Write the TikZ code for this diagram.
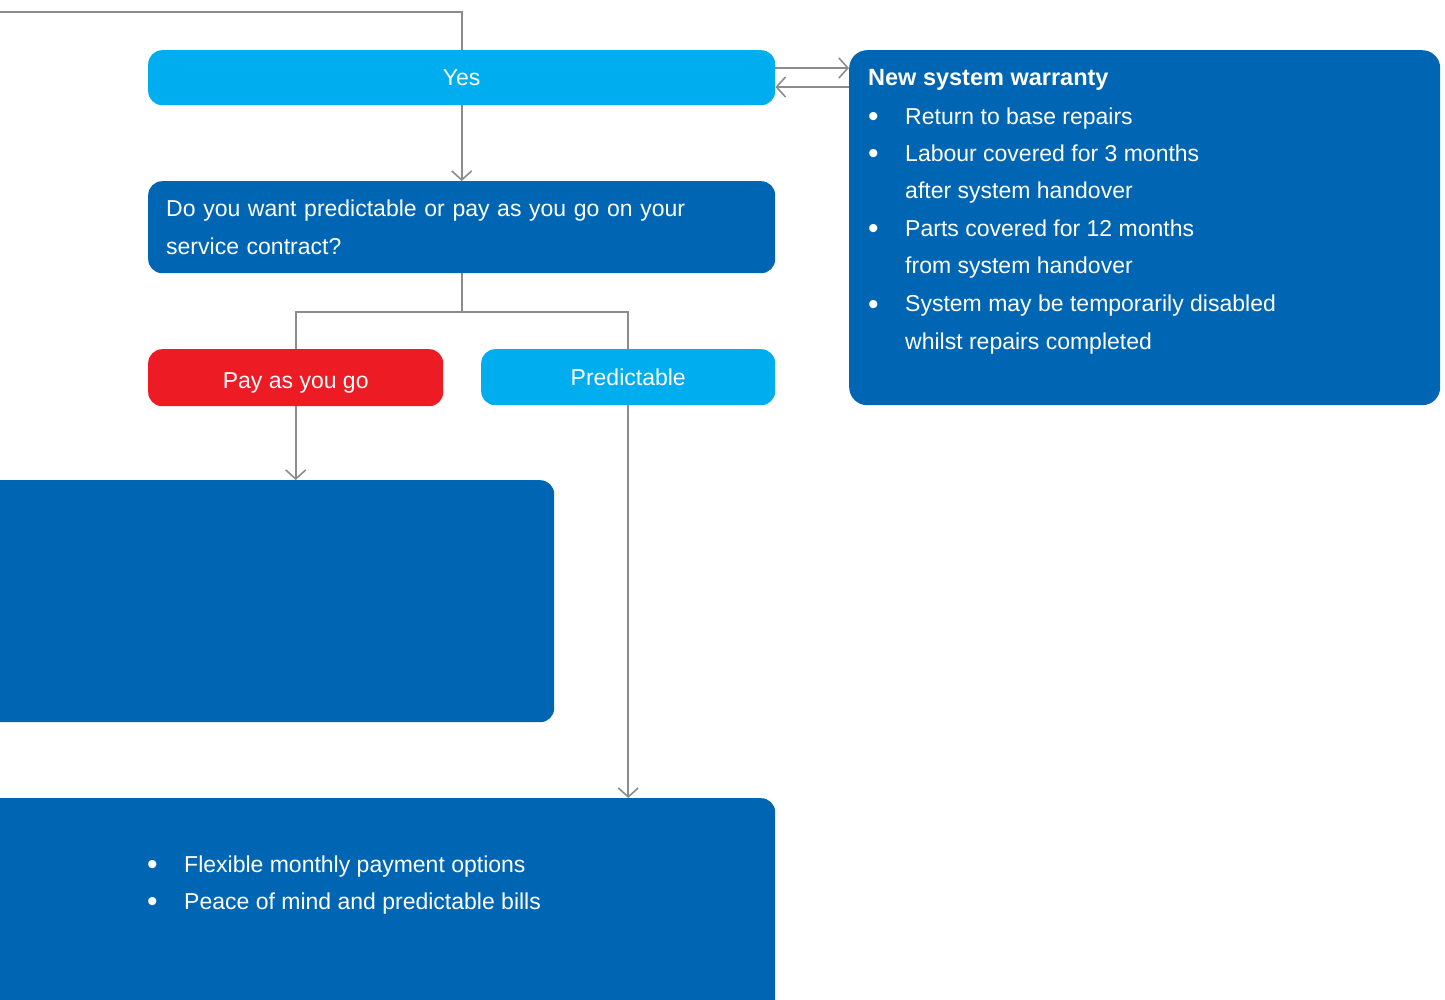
\documentclass[tikz,border=0pt]{standalone}
\usepackage{fontspec}
\setmainfont{Liberation Sans}
\usetikzlibrary{arrows.meta}
\definecolor{cyanbox}{HTML}{00AEEF}
\definecolor{bluebox}{HTML}{0066B3}
\definecolor{redbox}{HTML}{ED1C24}
\definecolor{connc}{HTML}{8C8C8C}
\begin{document}
\begin{tikzpicture}[x=1pt,y=-1pt,
  box/.style={rounded corners=14pt, inner sep=0pt, anchor=north west, text=white,
    font=\fontsize{23}{38}\selectfont},
  conn/.style={draw=connc, line width=1.6pt},
  arr/.style={conn, -{Straight Barb[length=9pt,width=20pt,line width=1.6pt]}},
  txt/.style={text=white, font=\fontsize{23}{27}\selectfont, inner sep=0pt, anchor=base west},
  bul/.style={text=white, font=\fontsize{30}{30}\selectfont, inner sep=0pt, anchor=base west}]
\clip (0,0) rectangle (1445,1000);
% boxes
\node[box, fill=cyanbox, minimum width=627pt, minimum height=55pt] (yes) at (148,50) {Yes};
\node[box, fill=bluebox, rounded corners=18pt, minimum width=591pt, minimum height=355pt] (warranty) at (849,50) {};
\node[box, fill=bluebox, minimum width=627pt, minimum height=92pt, text width=591pt, inner xsep=18pt, align=left] (question) at (148,181) {Do you want predictable or pay as you go on your\\service contract?};
\node[box, fill=redbox, minimum width=295pt, minimum height=57pt, text height=23pt, text depth=2pt] (pay) at (148,349) {Pay as you go};
\node[box, fill=cyanbox, minimum width=294pt, minimum height=56pt] (pred) at (481,349) {Predictable};
\node[box, fill=bluebox, minimum width=594pt, minimum height=242pt] (mid) at (-40,480) {};
\node[box, fill=bluebox, minimum width=815pt, minimum height=260pt] (bottom) at (-40,798) {};
% warranty text
\node[txt, font=\fontsize{23.5}{27}\selectfont\bfseries] (wt) at (868,86) {New system warranty};
\foreach \n/\y/\b/\t in {1/125/1/Return to base repairs,
  2/162/1/Labour covered for 3 months,
  3/199/0/after system handover,
  4/237/1/Parts covered for 12 months,
  5/274/0/from system handover,
  6/312/1/System may be temporarily disabled,
  7/349/0/whilst repairs completed}{
  \node[txt] (w\n) at (905,\y) {\t};
  \ifnum\b=1 \node[bul] (wb\n) at (868,\y+2) {•};\fi
}
% bottom box text
\node[bul] (bb1) at (147,874) {•};
\node[txt] (b1) at (184,872) {Flexible monthly payment options};
\node[bul] (bb2) at (147,911) {•};
\node[txt] (b2) at (184,909) {Peace of mind and predictable bills};
% connectors
\coordinate (topstart) at (0,12);
\coordinate (hy1) at (0,68);
\coordinate (hy2) at (0,87);
\coordinate (spl) at (0,312);
\draw[conn] (topstart) -| (yes.north);
\draw[arr] (yes.east |- hy1) -- (warranty.west |- hy1);
\draw[arr] (warranty.west |- hy2) -- (yes.east |- hy2);
\draw[arr] (yes.south) -- (question.north);
\draw[conn] (question.south) -- (question.south |- spl);
\draw[conn] (pay.north) |- (question.south |- spl) -| (pred.north);
\draw[arr] (pay.south) -- (pay.south |- mid.north);
\draw[arr] (pred.south) -- (pred.south |- bottom.north);
\end{tikzpicture}
\end{document}
